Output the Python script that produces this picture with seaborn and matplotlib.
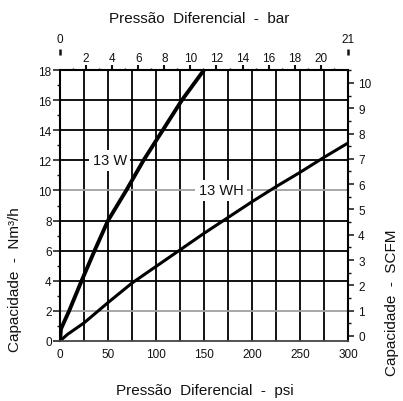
import numpy as np
import pandas as pd
import matplotlib
matplotlib.use("Agg")
import matplotlib.pyplot as plt
import seaborn as sns
from matplotlib.ticker import MultipleLocator, FixedLocator

# ---- data ----
psi_13w = [0, 1, 9.5, 22.5, 36, 50, 69, 87, 107, 127, 150]
cap_13w = [0, 0.8, 2, 4, 6, 8, 10, 12, 14, 16, 18]
psi_13wh = [0, 8, 25, 50, 75, 100, 125, 150, 175, 200, 225, 250, 275, 300]
cap_13wh = [0, 0.45, 1.2, 2.55, 3.85, 4.95, 6.05, 7.15, 8.2, 9.25, 10.25, 11.2, 12.2, 13.15]

psi_ticks = [0, 50, 100, 150, 200, 250, 300]
cap_ticks = [0, 2, 4, 6, 8, 10, 12, 14, 16, 18]
bar_ticks = [2, 4, 6, 8, 10, 12, 14, 16, 18, 20]
bar_end_ticks = [0, 21]
scfm_ticks = [0, 1, 2, 3, 4, 5, 6, 7, 8, 9, 10]

sns.set_theme(style="white")
plt.rcParams["font.family"] = ["Liberation Sans", "DejaVu Sans"]

W, H = 403, 402
fig = plt.figure(figsize=(W / 100, H / 100), dpi=100)
ax = fig.add_axes([60 / W, (H - 342) / H, 288 / W, 271 / H])
ax.set_xlim(0, 300)
ax.set_ylim(0, 18)

# grid
for v in range(25, 300, 25):
    ax.axvline(v, color="black", lw=1.3, zorder=1)
for v in range(2, 18, 2):
    ax.axhline(v, color="#a0a0a0" if v in (2, 10) else "black", lw=1.3, zorder=1)

df_w = pd.DataFrame({"psi": psi_13w, "cap": cap_13w})
df_wh = pd.DataFrame({"psi": psi_13wh, "cap": cap_13wh})
sns.lineplot(data=df_w, x="psi", y="cap", ax=ax, color="black", lw=2.8, sort=False, zorder=3)
sns.lineplot(data=df_wh, x="psi", y="cap", ax=ax, color="black", lw=2.2, sort=False, zorder=3)

lbl_kw = dict(ha="center", va="center", fontsize=10.5, color="#111111", zorder=4,
              bbox=dict(fc="white", ec="none", pad=2.5))
ax.text(52, 12, "13 W", **lbl_kw)
ax.text(168, 10, "13 WH", **lbl_kw)

# spines
for s in ["left", "right", "top"]:
    ax.spines[s].set_color("black")
    ax.spines[s].set_linewidth(1.5)
ax.spines["bottom"].set_color("#444444")
ax.spines["bottom"].set_linewidth(1.3)
for s in ax.spines.values():
    s.set_zorder(5)

# bottom axis
ax.set_xticks(psi_ticks)
ax.tick_params(axis="x", which="both", length=0, pad=5, labelsize=8.5, colors="#111111")
ax.set_xlabel("Pressão  Diferencial  -  psi", fontsize=11, color="#111111")
ax.xaxis.label.set_va("center")
ax.xaxis.set_label_coords((205 - 60) / 288, (342 - 391) / 271)

# left axis
ax.set_yticks(cap_ticks)
ax.yaxis.set_minor_locator(MultipleLocator(1))
ax.tick_params(axis="y", which="major", direction="out", length=5, width=1.1, pad=1,
               labelsize=8.5, left=True, colors="#111111")
ax.tick_params(axis="y", which="minor", direction="out", length=2.5, width=1, left=True,
               colors="#111111")
ax.set_ylabel("Capacidade  -  Nm³/h", fontsize=11, color="#111111")
ax.yaxis.label.set_va("center")
ax.yaxis.label.set_rotation_mode("default")
ax.yaxis.set_label_coords((15 - 60) / 288, (342 - 280) / 271)

# top axis: bar (as drawn on the chart)
k = 0.957 / 13.0
top = ax.secondary_xaxis("top", functions=(lambda p: p * k, lambda b: b / k))
top.set_xticks(bar_ticks)
top.xaxis.set_minor_locator(FixedLocator([1, 3, 5, 7, 9, 11, 13, 15, 17, 19, 21]))
top.tick_params(axis="x", which="major", direction="out", length=3.6, width=1.5, pad=1,
                labelsize=8.5, colors="#111111")
top.tick_params(axis="x", which="minor", direction="out", length=1.5, width=1, colors="#111111")
top.spines["top"].set_visible(False)
top.set_xlabel("Pressão  Diferencial  -  bar", fontsize=11, color="#111111")
top.xaxis.label.set_va("center")
top.xaxis.set_label_coords((199 - 60) / 288, (342 - 19) / 271, transform=ax.transAxes)

# top end marks 0 / 21
kk = 21 / 300
ends = ax.secondary_xaxis((342 - 53) / 271, functions=(lambda p: p * kk, lambda b: b / kk))
ends.set_xticks(bar_end_ticks)
ends.tick_params(axis="x", which="major", direction="inout", length=5, width=1.8, pad=2.2,
                 labelsize=8.5, colors="#111111")
ends.tick_params(axis="x", which="minor", length=0)
for s in ends.spines.values():
    s.set_visible(False)

# right axis: SCFM
right = ax.secondary_yaxis("right", functions=(lambda n: 0.595 * n - 0.2,
                                               lambda s: (s + 0.2) / 0.595))
right.set_yticks(scfm_ticks)
right.yaxis.set_minor_locator(MultipleLocator(0.5))
right.tick_params(axis="y", which="major", direction="out", length=4.3, width=1.1, pad=3,
                  labelsize=8.5, colors="#111111")
right.tick_params(axis="y", which="minor", direction="out", length=2.2, width=1, colors="#111111")
right.spines["right"].set_visible(False)
right.set_ylabel("Capacidade  -  SCFM", fontsize=11, color="#111111")
right.yaxis.label.set_va("center")
right.yaxis.label.set_rotation_mode("default")
right.yaxis.set_label_coords((392 - 60) / 288, (342 - 303) / 271, transform=ax.transAxes)

fig.savefig("out.png", dpi=100, facecolor="white")
